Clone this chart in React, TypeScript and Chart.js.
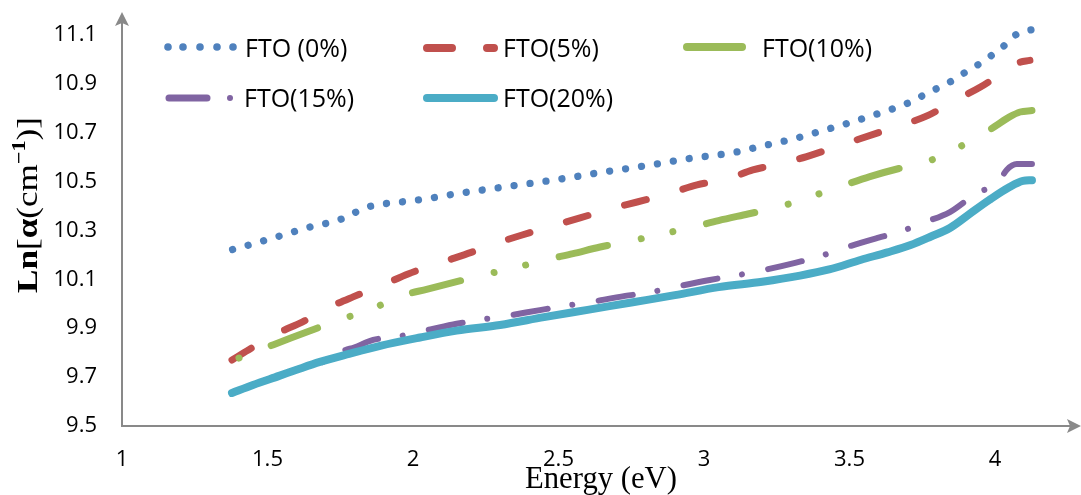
import React, { useEffect, useRef } from "react";
import { Chart, registerables } from "chart.js";

Chart.register(...registerables);

// ---------- data ----------
const seriesLabels = ["FTO (0%)", "FTO(5%)", "FTO(10%)", "FTO(15%)", "FTO(20%)"];

const e0 = [1.38, 1.45, 1.55, 1.65, 1.74, 1.78, 1.83, 1.88, 1.95, 2.05, 2.15, 2.25, 2.34, 2.45, 2.55, 2.65, 2.75, 2.85, 2.95, 3.05, 3.11, 3.2, 3.3, 3.4, 3.5, 3.6, 3.7, 3.75, 3.8, 3.85, 3.9, 3.945, 3.99, 4.034, 4.072, 4.1, 4.124];
const ln0 = [10.222, 10.245, 10.28, 10.315, 10.34, 10.36, 10.39, 10.405, 10.415, 10.43, 10.45, 10.467, 10.482, 10.5, 10.518, 10.538, 10.555, 10.574, 10.594, 10.609, 10.62, 10.645, 10.672, 10.705, 10.74, 10.778, 10.82, 10.85, 10.88, 10.91, 10.948, 10.98, 11.017, 11.058, 11.1, 11.115, 11.12];

const e5 = [1.378, 1.447, 1.536, 1.619, 1.715, 1.794, 1.897, 1.983, 2.1, 2.2, 2.3, 2.375, 2.478, 2.574, 2.677, 2.77, 2.876, 2.976, 3.079, 3.168, 3.278, 3.4, 3.5, 3.6, 3.67, 3.77, 3.86, 3.95, 4.04, 4.08, 4.12];
const ln5 = [9.77, 9.82, 9.88, 9.925, 9.987, 10.028, 10.077, 10.122, 10.17, 10.21, 10.253, 10.281, 10.318, 10.351, 10.388, 10.416, 10.449, 10.486, 10.51, 10.547, 10.576, 10.62, 10.66, 10.7, 10.727, 10.77, 10.83, 10.886, 10.956, 10.985, 10.995];

const e10 = [1.402, 1.491, 1.58, 1.663, 1.756, 1.859, 1.948, 2.05, 2.15, 2.25, 2.347, 2.454, 2.55, 2.643, 2.749, 2.856, 2.962, 3.05, 3.151, 3.258, 3.36, 3.47, 3.57, 3.67, 3.756, 3.856, 3.955, 4.007, 4.05, 4.086, 4.127];
const ln10 = [9.778, 9.819, 9.86, 9.897, 9.938, 9.978, 10.028, 10.06, 10.09, 10.12, 10.146, 10.179, 10.205, 10.232, 10.257, 10.285, 10.314, 10.34, 10.367, 10.396, 10.435, 10.48, 10.52, 10.553, 10.576, 10.629, 10.69, 10.731, 10.764, 10.784, 10.79];

const e15 = [1.4, 1.5, 1.6, 1.7, 1.73, 1.75, 1.8, 1.863, 1.945, 2.06, 2.15, 2.23, 2.299, 2.436, 2.515, 2.591, 2.729, 2.804, 2.883, 3.02, 3.096, 3.175, 3.313, 3.4, 3.5, 3.6, 3.67, 3.75, 3.845, 3.938, 4.01, 4.04, 4.075, 4.127];
const ln15 = [9.645, 9.69, 9.73, 9.765, 9.775, 9.8, 9.822, 9.852, 9.865, 9.895, 9.918, 9.934, 9.946, 9.974, 9.99, 10.003, 10.032, 10.044, 10.064, 10.097, 10.113, 10.13, 10.167, 10.195, 10.235, 10.27, 10.293, 10.33, 10.375, 10.453, 10.494, 10.547, 10.571, 10.571];

const e20 = [1.378, 1.45, 1.54, 1.6, 1.68, 1.78, 1.887, 2.024, 2.15, 2.299, 2.45, 2.6, 2.75, 2.9, 3.05, 3.2, 3.33, 3.43, 3.54, 3.63, 3.71, 3.78, 3.845, 3.91, 3.98, 4.05, 4.096, 4.127];
const ln20 = [9.635, 9.668, 9.705, 9.73, 9.762, 9.795, 9.828, 9.862, 9.89, 9.913, 9.945, 9.975, 10.005, 10.035, 10.068, 10.09, 10.115, 10.14, 10.18, 10.21, 10.24, 10.275, 10.31, 10.365, 10.424, 10.477, 10.502, 10.505];

const xTicks = [1, 1.5, 2, 2.5, 3, 3.5, 4];
const yTicks = [9.5, 9.7, 9.9, 10.1, 10.3, 10.5, 10.7, 10.9, 11.1];
const xTitle = "Energy (eV)";

// ---------- styles ----------
const W = 1081;
const H = 495;
const X_MIN = 1;
const X_MAX = 4.2955;
const Y_MIN = 9.5;
const Y_MAX = 11.193;
const AXIS_COLOR = "#898989";
const COLORS = ["#4F81BD", "#C0504D", "#9BBB59", "#8064A2", "#4BACC6"];
const TICK_FONT = "'Open Sans', 'Noto Sans', sans-serif";

const pts = (xs: number[], ys: number[]) => xs.map((x, i) => ({ x, y: ys[i] }));

const overlayPlugin = {
  id: "overlay",
  afterDraw(chart: any) {
    const ctx: CanvasRenderingContext2D = chart.ctx;
    const xs = chart.scales.x;
    const ys = chart.scales.y;
    const area = chart.chartArea;
    const x0 = xs.getPixelForValue(X_MIN);
    const y0 = ys.getPixelForValue(Y_MIN);
    ctx.save();

    // axes with arrows
    ctx.strokeStyle = AXIS_COLOR;
    ctx.fillStyle = AXIS_COLOR;
    ctx.lineWidth = 2;
    ctx.lineCap = "butt";
    ctx.beginPath();
    ctx.moveTo(x0, y0 + 1);
    ctx.lineTo(x0, area.top + 10);
    ctx.moveTo(x0 - 1, y0);
    ctx.lineTo(area.right - 10, y0);
    ctx.stroke();
    ctx.beginPath();
    ctx.moveTo(x0, area.top);
    ctx.lineTo(x0 - 7, area.top + 14);
    ctx.lineTo(x0, area.top + 11);
    ctx.lineTo(x0 + 7, area.top + 14);
    ctx.closePath();
    ctx.fill();
    ctx.beginPath();
    ctx.moveTo(area.right, y0);
    ctx.lineTo(area.right - 14, y0 - 7);
    ctx.lineTo(area.right - 11, y0);
    ctx.lineTo(area.right - 14, y0 + 7);
    ctx.closePath();
    ctx.fill();

    // x-axis title
    ctx.fillStyle = "#000";
    ctx.font = "32px 'Liberation Serif', 'Times New Roman', serif";
    ctx.textBaseline = "alphabetic";
    ctx.textAlign = "left";
    const tw = ctx.measureText(xTitle).width;
    const sx = 152 / tw;
    ctx.save();
    ctx.translate(601, 488);
    ctx.scale(sx, 1);
    ctx.fillText(xTitle, -tw / 2, 0);
    ctx.restore();

    // y-axis title: Ln[α(cm⁻¹)]
    const segs = [
      { t: "Ln", f: "bold 30px 'Liberation Serif', serif", dy: 0 },
      { t: "[", f: "30px 'Liberation Serif', serif", dy: 0 },
      { t: "α", f: "bold 30px 'Liberation Serif', serif", dy: 0 },
      { t: "(cm", f: "30px 'Liberation Serif', serif", dy: 0 },
      { t: "−1", f: "bold 19px 'Liberation Serif', serif", dy: -12 },
      { t: ")]", f: "30px 'Liberation Serif', serif", dy: 0 },
    ];
    let total = 0;
    const widths = segs.map((s) => {
      ctx.font = s.f;
      const w = ctx.measureText(s.t).width;
      total += w;
      return w;
    });
    const sy = 176 / total;
    ctx.save();
    ctx.translate(37, 205);
    ctx.rotate(-Math.PI / 2);
    ctx.scale(sy, 1);
    let cx = -total / 2;
    segs.forEach((s, i) => {
      ctx.font = s.f;
      ctx.fillText(s.t, cx, s.dy);
      cx += widths[i];
    });
    ctx.restore();

    // legend
    ctx.lineCap = "round";
    ctx.fillStyle = COLORS[0];
    [168, 183, 200, 217, 233].forEach((px) => {
      ctx.beginPath();
      ctx.arc(px, 47, 3.8, 0, Math.PI * 2);
      ctx.fill();
    });
    ctx.strokeStyle = COLORS[1];
    ctx.lineWidth = 8;
    ctx.beginPath();
    ctx.moveTo(427, 48);
    ctx.lineTo(452, 48);
    ctx.moveTo(487, 48);
    ctx.lineTo(494, 48);
    ctx.stroke();
    ctx.strokeStyle = COLORS[2];
    ctx.beginPath();
    ctx.moveTo(687, 47);
    ctx.lineTo(742, 47);
    ctx.stroke();
    ctx.strokeStyle = COLORS[3];
    ctx.lineWidth = 7;
    ctx.beginPath();
    ctx.moveTo(169, 98);
    ctx.lineTo(207, 98);
    ctx.stroke();
    ctx.fillStyle = COLORS[3];
    ctx.beginPath();
    ctx.arc(230, 98, 3, 0, Math.PI * 2);
    ctx.fill();
    ctx.strokeStyle = COLORS[4];
    ctx.lineWidth = 8;
    ctx.beginPath();
    ctx.moveTo(427, 98);
    ctx.lineTo(494, 98);
    ctx.stroke();

    ctx.fillStyle = "#000";
    ctx.font = "25px " + TICK_FONT;
    ctx.textAlign = "left";
    ctx.textBaseline = "alphabetic";
    const legendPos = [
      [245, 57],
      [503, 57],
      [762, 57],
      [244, 107],
      [503, 107],
    ];
    seriesLabels.forEach((lab, i) => ctx.fillText(lab, legendPos[i][0], legendPos[i][1]));

    ctx.restore();
  },
};

export default function App() {
  const ref = useRef<HTMLCanvasElement>(null);

  useEffect(() => {
    if (!ref.current) return;
    const common = {
      pointRadius: 0,
      fill: false,
      borderCapStyle: "round" as const,
      borderJoinStyle: "round" as const,
      cubicInterpolationMode: "monotone" as const,
    };
    const chart = new Chart(ref.current, {
      type: "line",
      data: {
        datasets: [
          { ...common, label: seriesLabels[0], data: pts(e0, ln0), borderColor: COLORS[0], borderWidth: 7.3, borderDash: [0.01, 16.1], order: 5 },
          { ...common, label: seriesLabels[1], data: pts(e5, ln5), borderColor: COLORS[1], borderWidth: 7, borderDash: [22.5, 38], order: 4 },
          { ...common, label: seriesLabels[2], data: pts(e10, ln10), borderColor: COLORS[2], borderWidth: 7, borderDash: [49.6, 34.5, 0.01, 32.4, 0.01, 34.5], borderDashOffset: 116.5, order: 3 },
          { ...common, label: seriesLabels[3], data: pts(e15, ln15), borderColor: COLORS[3], borderWidth: 6, borderDash: [34.6, 24.9, 0.01, 26.7], borderDashOffset: 57, order: 2 },
          { ...common, label: seriesLabels[4], data: pts(e20, ln20), borderColor: COLORS[4], borderWidth: 8, order: 1 },
        ],
      },
      options: {
        responsive: false,
        animation: false,
        layout: { padding: { top: 12, right: 0, left: 0, bottom: 0 } },
        plugins: { legend: { display: false }, tooltip: { enabled: false } },
        scales: {
          x: {
            type: "linear",
            min: X_MIN,
            max: X_MAX,
            afterBuildTicks: (s: any) => {
              s.ticks = xTicks.map((v) => ({ value: v }));
            },
            afterFit: (s: any) => {
              s.height = 69;
              s.paddingLeft = 0;
              s.paddingRight = 0;
              s.paddingTop = 0;
              s.paddingBottom = 0;
            },
            grid: { display: false, drawTicks: false },
            border: { display: false },
            ticks: {
              color: "#000",
              font: { family: TICK_FONT, size: 22 },
              padding: 21,
              maxRotation: 0,
              autoSkip: false,
              callback: (v: any) => String(v),
            },
          },
          y: {
            type: "linear",
            min: Y_MIN,
            max: Y_MAX,
            afterBuildTicks: (s: any) => {
              s.ticks = yTicks.map((v) => ({ value: v }));
            },
            afterFit: (s: any) => {
              s.width = 122;
              s.paddingLeft = 0;
              s.paddingRight = 0;
              s.paddingTop = 0;
              s.paddingBottom = 0;
            },
            grid: { display: false, drawTicks: false },
            border: { display: false },
            ticks: {
              color: "#000",
              font: { family: TICK_FONT, size: 22 },
              padding: 25,
              autoSkip: false,
              callback: (v: any) => String(v),
            },
          },
        },
      },
      plugins: [overlayPlugin],
    });
    return () => chart.destroy();
  }, []);

  return (
    <div style={{ position: "fixed", left: 0, top: 0, width: W, height: H, background: "#fff" }}>
      <canvas ref={ref} width={W} height={H} style={{ display: "block", width: W, height: H }} />
    </div>
  );
}
